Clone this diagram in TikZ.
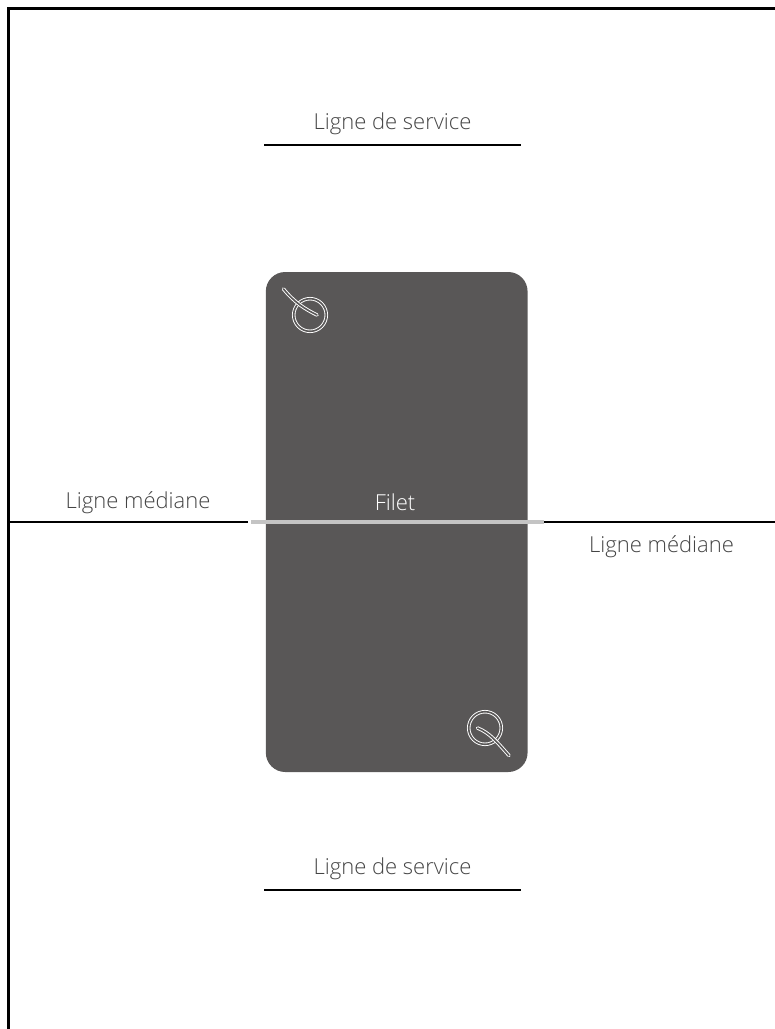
\documentclass[tikz,border=0pt]{standalone}
\usepackage{fontspec}
\setmainfont{Open Sans Light}[BoldFont={Open Sans}]
\definecolor{courtgray}{HTML}{595757}
\definecolor{labelgray}{HTML}{444444}
\definecolor{netgray}{HTML}{C4C4C4}
\begin{document}
\begin{tikzpicture}[
        x=0.75pt, y=-0.75pt,
        label/.style={font=\fontsize{16.5}{19}\selectfont, text=labelgray, inner sep=0pt},
        line/.style={line width=1.7pt, black},
        ring/.style={draw=white, line width=0.7pt, double=courtgray, double distance=1.2pt, line cap=round}
    ]
        \useasboundingbox (0,0) rectangle (775,1029);

        \node[draw=none, fill=courtgray, rounded corners=14.5pt, minimum width=196.3pt, minimum height=375pt, inner sep=0pt] (table) at (396.7,522) {};

        \coordinate (frameTR) at (775,8.5);
        \coordinate (frameTL) at (8.5,8.5);
        \coordinate (frameBL) at (8.5,1029);
        \draw[line] (frameTR) -- (frameTL) -- (frameBL);

        \node[label] (servTop) at (392.5,123.3) {Ligne de service};
        \coordinate (servTopA) at (264,145);
        \coordinate (servTopB) at (521,145);
        \draw[line] (servTopA) -- (servTopB);

        \node[label] (servBot) at (392.5,868.3) {Ligne de service};
        \coordinate (servBotA) at (264,890);
        \coordinate (servBotB) at (521,890);
        \draw[line] (servBotA) -- (servBotB);

        \node[label] (medLeft) at (138,502.3) {Ligne médiane};
        \node[label] (medRight) at (661.5,546.3) {Ligne médiane};
        \node[label, text=white] (filet) at (395,502.3) {Filet};

        \coordinate (medLeftA) at (8.5,522);
        \coordinate (medLeftB) at (248,522);
        \coordinate (medRightA) at (544,522);
        \coordinate (medRightB) at (775,522);
        \coordinate (netA) at (251,522);
        \coordinate (netB) at (543.5,522);
        \draw[line] (medLeftA) -- (medLeftB);
        \draw[line] (medRightA) -- (medRightB);
        \draw[line width=3pt, netgray] (netA) -- (netB);

        % ball and tail, top
        \coordinate (ballTop) at (310,315);
        \draw[ring] (ballTop) circle (16.3);
        \draw[ring] (283.5,289) .. controls (295,303) and (305,309) .. (317,315);

        % ball and tail, bottom
        \coordinate (ballBot) at (485,728);
        \draw[ring] (ballBot) circle (16.3);
        \draw[ring] (477.5,728) .. controls (490,733) and (497,742) .. (509,755.5);
    \end{tikzpicture}
\end{document}
